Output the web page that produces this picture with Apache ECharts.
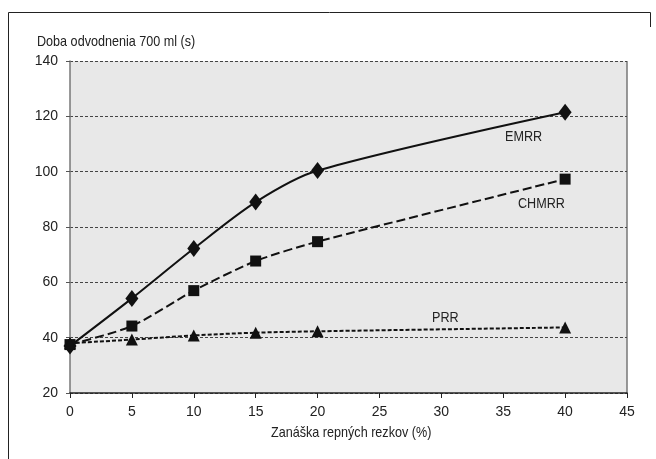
<!DOCTYPE html>
<html><head><meta charset="utf-8">
<script src="https://cdn.jsdelivr.net/npm/echarts@6/dist/echarts.min.js"></script>
<style>html,body{margin:0;padding:0;background:#fff}#c{width:656px;height:459px}</style>
</head><body><div id="c"></div>
<script>
var xValues = [0, 5, 10, 15, 20, 40];
var emrr = [37, 54.2, 72.2, 89, 100.4, 121.5];
var chmrr = [37.5, 44.2, 57, 67.7, 74.7, 97.3];
var prr = [38, 39.3, 40.8, 41.8, 42.3, 43.7];
var xTicks = [0, 5, 10, 15, 20, 25, 30, 35, 40, 45];
var yTicks = [20, 40, 60, 80, 100, 120, 140];
var seriesNames = ['EMRR', 'CHMRR', 'PRR'];
var yTitle = 'Doba odvodnenia 700 ml (s)';
var xTitle = 'Zanáška repných rezkov (%)';

var FONT = '"Liberation Sans",Arial,sans-serif';
function pairs(v){ return xValues.map(function(x,i){ return [x, v[i]]; }); }
function label(txt, x, y){
  return {type:'text', x:x, y:y, scaleX:0.84, style:{text:txt, fontSize:15, fill:'#222', fontFamily:FONT}, silent:true};
}
var chart = echarts.init(document.getElementById('c'), null, {renderer:'canvas'});
chart.setOption({
  animation:false,
  backgroundColor:'#fff',
  textStyle:{fontFamily:FONT},
  grid:{left:70, top:61, width:557, height:332, show:true, backgroundColor:'#e8e8e8', borderWidth:0},
  xAxis:{type:'value', min:0, max:45, interval:5,
    axisLine:{show:true, onZero:false, lineStyle:{color:'#222', width:1.5}},
    axisTick:{show:true, length:5, lineStyle:{color:'#222'}},
    axisLabel:{color:'#222', fontSize:14, margin:12, fontFamily:FONT},
    splitLine:{show:false}
  },
  yAxis:{type:'value', min:20, max:140, interval:20,
    axisLine:{show:true, lineStyle:{color:'#777', width:1.5}},
    axisTick:{show:true, length:4, lineStyle:{color:'#555'}},
    axisLabel:{color:'#222', fontSize:14, margin:12, fontFamily:FONT},
    splitLine:{show:true, lineStyle:{color:'#444', type:[3,2], width:1}}
  },
  graphic:[
    {type:'polyline', shape:{points:[[8.5,470],[8.5,12.5],[650.5,12.5],[650.5,27]]}, style:{stroke:'#222', lineWidth:1, fill:null}, silent:true},
    {type:'line', shape:{x1:627,y1:61,x2:627,y2:393}, style:{stroke:'#777', lineWidth:1.5}, silent:true},
    label(yTitle, 37, 34),
    label(xTitle, 271, 425),
    label(seriesNames[0], 505, 129),
    label(seriesNames[1], 518, 196),
    label(seriesNames[2], 432, 310)
  ],
  series:[
    {name:seriesNames[0], type:'line', data:pairs(emrr), smooth:0.3, symbol:'diamond', symbolSize:[13,17],
      lineStyle:{color:'#111', width:2, type:'solid'}, itemStyle:{color:'#111'}},
    {name:seriesNames[1], type:'line', data:pairs(chmrr), smooth:0.25, symbol:'rect', symbolSize:11,
      lineStyle:{color:'#111', width:2, type:[9,4]}, itemStyle:{color:'#111'}},
    {name:seriesNames[2], type:'line', data:pairs(prr), smooth:0.3, symbol:'triangle', symbolSize:[12,12],
      lineStyle:{color:'#111', width:2, type:[4,2]}, itemStyle:{color:'#111'}}
  ]
});
</script></body></html>
